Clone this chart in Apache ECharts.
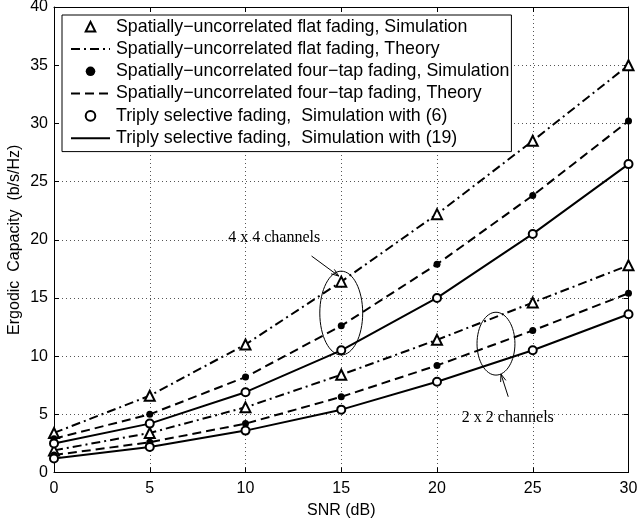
<!DOCTYPE html>
<html><head><meta charset="utf-8">
<script src="https://cdn.jsdelivr.net/npm/echarts@6/dist/echarts.min.js"></script>
<style>html,body{margin:0;padding:0;background:#fff}#c{width:638px;height:520px}</style>
</head><body><div id="c"></div>
<script>
// ---- data ----
const snr = [0, 5, 10, 15, 20, 25, 30];
const flat4 = [3.4, 6.6, 11.0, 16.4, 22.2, 28.5, 35.0];
const tap4 = [2.9, 5.0, 8.2, 12.6, 17.9, 23.8, 30.2];
const triply4 = [2.5, 4.2, 6.9, 10.5, 15.0, 20.5, 26.5];
const flat2 = [1.9, 3.4, 5.6, 8.4, 11.4, 14.6, 17.8];
const tap2 = [1.5, 2.6, 4.2, 6.5, 9.2, 12.2, 15.4];
const triply2 = [1.2, 2.2, 3.6, 5.4, 7.8, 10.5, 13.6];
const xTicks = [0, 5, 10, 15, 20, 25, 30];
const yTicks = [0, 5, 10, 15, 20, 25, 30, 35, 40];

const names = [
  'Spatially\u2212uncorrelated flat fading, Simulation',
  'Spatially\u2212uncorrelated flat fading, Theory',
  'Spatially\u2212uncorrelated four\u2212tap fading, Simulation',
  'Spatially\u2212uncorrelated four\u2212tap fading, Theory',
  'Triply selective fading,  Simulation with (6)',
  'Triply selective fading,  Simulation with (19)'
];

const SANS = 'Liberation Sans';
const SERIF = 'Liberation Serif';
const DASHDOT = [9, 4, 2, 4];
const DASHED = [9, 5];

function pts(vals) { return snr.map((x, i) => [x, vals[i]]); }
function sim(name, vals, symbol, size, fill, bw) {
  return { type: 'line', name, data: pts(vals), symbol, symbolSize: size, showSymbol: true,
    lineStyle: { opacity: 0, width: 0 },
    itemStyle: { color: fill, borderColor: '#000', borderWidth: bw, opacity: 1 },
    z: 5, animation: false, silent: true };
}
function theory(name, vals, type) {
  return { type: 'line', name, data: pts(vals), symbol: 'none',
    lineStyle: { color: '#000', width: 2, type },
    itemStyle: { color: '#000' }, z: 3, animation: false, silent: true };
}

const series = [
  sim(names[0], flat4, 'triangle', 10, '#fff', 2),
  sim(names[0], flat2, 'triangle', 10, '#fff', 2),
  theory(names[1], flat4, DASHDOT),
  theory(names[1], flat2, DASHDOT),
  sim(names[2], tap4, 'circle', 7, '#000', 0),
  sim(names[2], tap2, 'circle', 7, '#000', 0),
  theory(names[3], tap4, DASHED),
  theory(names[3], tap2, DASHED),
  sim(names[4], triply4, 'circle', 8, '#fff', 2),
  sim(names[4], triply2, 'circle', 8, '#fff', 2),
  theory(names[5], triply4, 'solid'),
  theory(names[5], triply2, 'solid')
];

const hideSym = { color: 'rgba(0,0,0,0)', borderColor: 'rgba(0,0,0,0)', borderWidth: 0, opacity: 0 };

function axisBase(min, max, interval) {
  return {
    type: 'value', min, max, interval,
    axisLine: { show: true, onZero: false, lineStyle: { color: '#000', width: 1 } },
    axisTick: { show: true, inside: true, length: 5, lineStyle: { color: '#000', width: 1 } },
    splitLine: { show: false }
  };
}
const lab = { color: '#000', fontFamily: SANS, fontSize: 16, showMinLabel: true, showMaxLabel: true };

const option = {
  backgroundColor: '#fff',
  animation: false,
  grid: { left: 54, right: 9.5, top: 7, bottom: 47.5, containLabel: false, outerBoundsMode: 'none' },
  xAxis: [
    Object.assign(axisBase(xTicks[0], xTicks[xTicks.length - 1], xTicks[1] - xTicks[0]), {
      position: 'bottom',
      axisLabel: Object.assign({ margin: 8 }, lab),
      splitLine: { show: true, lineStyle: { color: '#555', width: 1, type: [1, 3] } },
      name: 'SNR (dB)', nameLocation: 'middle', nameGap: 30, nameMoveOverlap: false,
      nameTextStyle: { color: '#000', fontFamily: SANS, fontSize: 16 }
    }),
    Object.assign(axisBase(xTicks[0], xTicks[xTicks.length - 1], xTicks[1] - xTicks[0]), {
      position: 'top', axisLabel: { show: false }
    })
  ],
  yAxis: [
    Object.assign(axisBase(yTicks[0], yTicks[yTicks.length - 1], yTicks[1] - yTicks[0]), {
      position: 'left',
      axisLabel: Object.assign({ margin: 6 }, lab),
      splitLine: { show: true, lineStyle: { color: '#555', width: 1, type: [1, 3] } },
      name: 'Ergodic  Capacity  (b/s/Hz)', nameLocation: 'middle', nameGap: 31, nameMoveOverlap: false,
      nameTextStyle: { color: '#000', fontFamily: SANS, fontSize: 16 }
    }),
    Object.assign(axisBase(yTicks[0], yTicks[yTicks.length - 1], yTicks[1] - yTicks[0]), {
      position: 'right', axisLabel: { show: false }
    })
  ],
  legend: {
    orient: 'vertical', left: 62, top: 15,
    padding: [2.7, 2, 4.4, 8], itemGap: 4.3, itemWidth: 39, itemHeight: 12,
    borderColor: '#000', borderWidth: 1, backgroundColor: '#fff',
    selectedMode: false,
    textStyle: { color: '#000', fontFamily: SANS, fontSize: 17.8, padding: [0, 0, 0, 1] },
    data: [
      { name: names[0] },
      { name: names[1], itemStyle: hideSym },
      { name: names[2] },
      { name: names[3], itemStyle: hideSym },
      { name: names[4] },
      { name: names[5], itemStyle: hideSym }
    ]
  },
  series
};

const chart = echarts.init(document.getElementById('c'), null, { renderer: 'canvas' });
chart.setOption(option);

// ---- annotations (data coordinates) ----
const annTexts = [
  { text: '4 x 4 channels', at: [11.5, 20.2] },
  { text: '2 x 2 channels', at: [23.7, 4.7] }
];
const annEllipses = [
  { c: [15.0, 13.7], rx: 1.12, ry: 3.6 },
  { c: [23.08, 11.07], rx: 0.99, ry: 2.7 }
];
const annArrows = [
  { from: [13.45, 18.6], to: [14.87, 16.88] },
  { from: [23.72, 6.51], to: [23.34, 8.46] }
];

function px(p) { return chart.convertToPixel({ xAxisIndex: 0, yAxisIndex: 0 }, p); }
const els = [];
annTexts.forEach(a => {
  const p = px(a.at);
  els.push({ type: 'text', x: p[0], y: p[1], z: 10,
    style: { text: a.text, fontFamily: SERIF, fontSize: 16, fill: '#000', align: 'center', verticalAlign: 'middle' } });
});
annEllipses.forEach(e => {
  const c = px(e.c);
  const r = px([e.c[0] + e.rx, e.c[1] + e.ry]);
  els.push({ type: 'ellipse', z: 10,
    shape: { cx: c[0], cy: c[1], rx: Math.abs(r[0] - c[0]), ry: Math.abs(r[1] - c[1]) },
    style: { fill: 'none', stroke: '#000', lineWidth: 1 } });
});
annArrows.forEach(a => {
  const f = px(a.from), t = px(a.to);
  const ang = Math.atan2(t[1] - f[1], t[0] - f[0]);
  const L = 8, w = 0.35;
  const h1 = [t[0] - L * Math.cos(ang - w), t[1] - L * Math.sin(ang - w)];
  const h2 = [t[0] - L * Math.cos(ang + w), t[1] - L * Math.sin(ang + w)];
  els.push({ type: 'line', z: 10, shape: { x1: f[0], y1: f[1], x2: t[0], y2: t[1] }, style: { stroke: '#000', lineWidth: 1 } });
  els.push({ type: 'polyline', z: 10, shape: { points: [h1, t, h2] }, style: { stroke: '#000', lineWidth: 1, fill: 'none' } });
});
chart.setOption({ graphic: { elements: els } });
</script>
</body></html>
